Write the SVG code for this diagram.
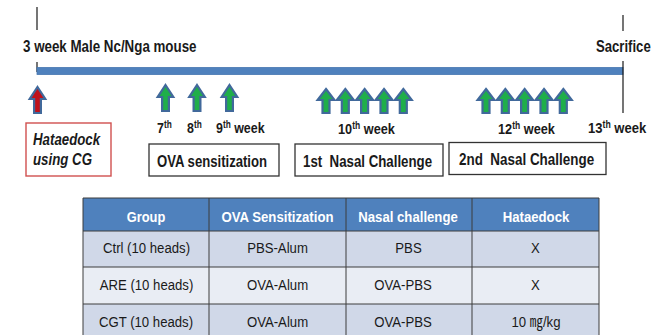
<svg xmlns="http://www.w3.org/2000/svg" width="660" height="335" viewBox="0 0 660 335">
  <style>
    text { font-family: "Liberation Sans", Arial, sans-serif; fill: #1a1a1a; }
    .b16 { font-size: 16px; font-weight: bold; }
    .b15 { font-size: 15px; font-weight: bold; }
    .bi16 { font-size: 16px; font-weight: bold; font-style: italic; }
    .hd { font-size: 15.5px; font-weight: bold; fill: #ffffff; text-anchor: middle; }
    .td { font-size: 15.5px; text-anchor: middle; }
    .sup { font-size: 10px; }
    .vline { stroke: #1a1a1a; stroke-width: 1.2; }
    .box { fill: #ffffff; stroke: #333333; stroke-width: 1.3; }
    .grid { stroke: #3c3c3c; stroke-width: 1; }
  </style>
  <defs>
    <!-- block arrows; fill comes from each <use> -->
    <path id="arrowA" d="M0,0 L7.8,12 L3.4,12 L3.4,26 L-3.4,26 L-3.4,12 L-7.8,12 Z" stroke="#41699b" stroke-width="2.2" stroke-linejoin="miter"/>
    <path id="arrowB" d="M0,0 L8.4,11 L3.5,11 L3.5,24 L-3.5,24 L-3.5,11 L-8.4,11 Z" stroke="#41699b" stroke-width="2.2" stroke-linejoin="miter"/>
  </defs>

  <!-- timeline -->
  <g id="timeline">
    <line class="vline" x1="37" y1="7" x2="37" y2="30"/>
    <line class="vline" x1="37" y1="62" x2="37" y2="72"/>
    <rect x="37" y="67.5" width="586" height="7" fill="#4f81bd" stroke="#4576b0" stroke-width="0.8"/>
    <line class="vline" x1="623" y1="15" x2="623" y2="31"/>
    <line class="vline" x1="623" y1="61" x2="623" y2="113"/>
    <text class="b16" transform="translate(23,52) scale(0.835,1)">3 week Male Nc/Nga mouse</text>
    <text class="b16" transform="translate(596,52) scale(0.82,1)">Sacrifice</text>
  </g>

  <!-- dosing arrows -->
  <g id="arrows">
    <use href="#arrowA" x="37.5" y="87" fill="#c0111b"/>
    <use href="#arrowA" x="165.5" y="85" fill="#1fae4a"/>
    <use href="#arrowA" x="197" y="85" fill="#1fae4a"/>
    <use href="#arrowA" x="229.5" y="85" fill="#1fae4a"/>
    <use href="#arrowB" x="326" y="89" fill="#1fae4a"/>
    <use href="#arrowB" x="345.3" y="89" fill="#1fae4a"/>
    <use href="#arrowB" x="364.6" y="89" fill="#1fae4a"/>
    <use href="#arrowB" x="384" y="89" fill="#1fae4a"/>
    <use href="#arrowB" x="403.3" y="89" fill="#1fae4a"/>
    <use href="#arrowB" x="486" y="89" fill="#1fae4a"/>
    <use href="#arrowB" x="505.3" y="89" fill="#1fae4a"/>
    <use href="#arrowB" x="524.6" y="89" fill="#1fae4a"/>
    <use href="#arrowB" x="544" y="89" fill="#1fae4a"/>
    <use href="#arrowB" x="563.3" y="89" fill="#1fae4a"/>
  </g>

  <!-- week labels -->
  <g id="weeks">
    <text class="b15" transform="translate(157,133) scale(0.83,1)">7<tspan class="sup" dy="-5">th</tspan></text>
    <text class="b15" transform="translate(187,133) scale(0.83,1)">8<tspan class="sup" dy="-5">th</tspan></text>
    <text class="b15" transform="translate(216,133) scale(0.83,1)">9<tspan class="sup" dy="-5">th</tspan><tspan dy="5"> week</tspan></text>
    <text class="b15" transform="translate(338,134) scale(0.85,1)">10<tspan class="sup" dy="-5">th</tspan><tspan dy="5"> week</tspan></text>
    <text class="b15" transform="translate(498,134) scale(0.85,1)">12<tspan class="sup" dy="-5">th</tspan><tspan dy="5"> week</tspan></text>
    <text class="b15" transform="translate(588,133) scale(0.87,1)">13<tspan class="sup" dy="-5">th</tspan><tspan dy="5"> week</tspan></text>
  </g>

  <!-- phase boxes -->
  <g id="hataedock">
    <rect x="26" y="123" width="85" height="53" fill="#ffffff" stroke="#d0504f" stroke-width="1.4"/>
    <text class="bi16" transform="translate(33,145) scale(0.83,1)">Hataedock</text>
    <text class="bi16" transform="translate(33,165) scale(0.83,1)">using CG</text>
  </g>
  <g id="sensitization">
    <rect class="box" x="149" y="144" width="130" height="32"/>
    <text class="b16" transform="translate(157,166.5) scale(0.82,1)">OVA sensitization</text>
  </g>
  <g id="challenge1">
    <rect class="box" x="295" y="144" width="148" height="32"/>
    <text class="b16" xml:space="preserve" transform="translate(303,166.5) scale(0.83,1)">1st  Nasal Challenge</text>
  </g>
  <g id="challenge2">
    <rect class="box" x="449" y="142.5" width="157" height="32"/>
    <text class="b16" xml:space="preserve" transform="translate(459,164.5) scale(0.84,1)">2nd  Nasal Challenge</text>
  </g>

  <!-- group table -->
  <g id="table">
    <rect x="83" y="198" width="516" height="33" fill="#4f81bd"/>
    <rect x="83" y="231" width="516" height="36" fill="#d0d8e8"/>
    <rect x="83" y="267" width="516" height="37" fill="#e9edf4"/>
    <rect x="83" y="304" width="516" height="32" fill="#d0d8e8"/>
    <line class="grid" x1="83" y1="198" x2="599" y2="198"/>
    <line class="grid" x1="83" y1="231" x2="599" y2="231"/>
    <line class="grid" x1="83" y1="267" x2="599" y2="267"/>
    <line class="grid" x1="83" y1="304" x2="599" y2="304"/>
    <line class="grid" x1="83" y1="198" x2="83" y2="335"/>
    <line class="grid" x1="209" y1="198" x2="209" y2="335"/>
    <line class="grid" x1="346" y1="198" x2="346" y2="335"/>
    <line class="grid" x1="472" y1="198" x2="472" y2="335"/>
    <line class="grid" x1="599" y1="198" x2="599" y2="335"/>

    <text class="hd" transform="translate(146,222) scale(0.83,1)">Group</text>
    <text class="hd" transform="translate(277.5,222) scale(0.85,1)">OVA Sensitization</text>
    <text class="hd" transform="translate(408,222) scale(0.85,1)">Nasal challenge</text>
    <text class="hd" transform="translate(536,222) scale(0.85,1)">Hataedock</text>

    <text class="td" transform="translate(146.5,253) scale(0.85,1)">Ctrl (10 heads)</text>
    <text class="td" transform="translate(277.5,253) scale(0.85,1)">PBS-Alum</text>
    <text class="td" transform="translate(408.5,253) scale(0.85,1)">PBS</text>
    <text class="td" transform="translate(535.5,253) scale(0.85,1)">X</text>

    <text class="td" transform="translate(146.5,289.5) scale(0.85,1)">ARE (10 heads)</text>
    <text class="td" transform="translate(277.5,289.5) scale(0.85,1)">OVA-Alum</text>
    <text class="td" transform="translate(403,289.5) scale(0.85,1)">OVA-PBS</text>
    <text class="td" transform="translate(535.5,289.5) scale(0.85,1)">X</text>

    <text class="td" transform="translate(146,326.5) scale(0.85,1)">CGT (10 heads)</text>
    <text class="td" transform="translate(277.5,326.5) scale(0.85,1)">OVA-Alum</text>
    <text class="td" transform="translate(403,326.5) scale(0.85,1)">OVA-PBS</text>
    <text class="td" style="font-family: 'Liberation Sans', 'Noto Sans CJK KR', sans-serif" transform="translate(536,326.5) scale(0.85,1)">10 ㎎/kg</text>
  </g>
</svg>
